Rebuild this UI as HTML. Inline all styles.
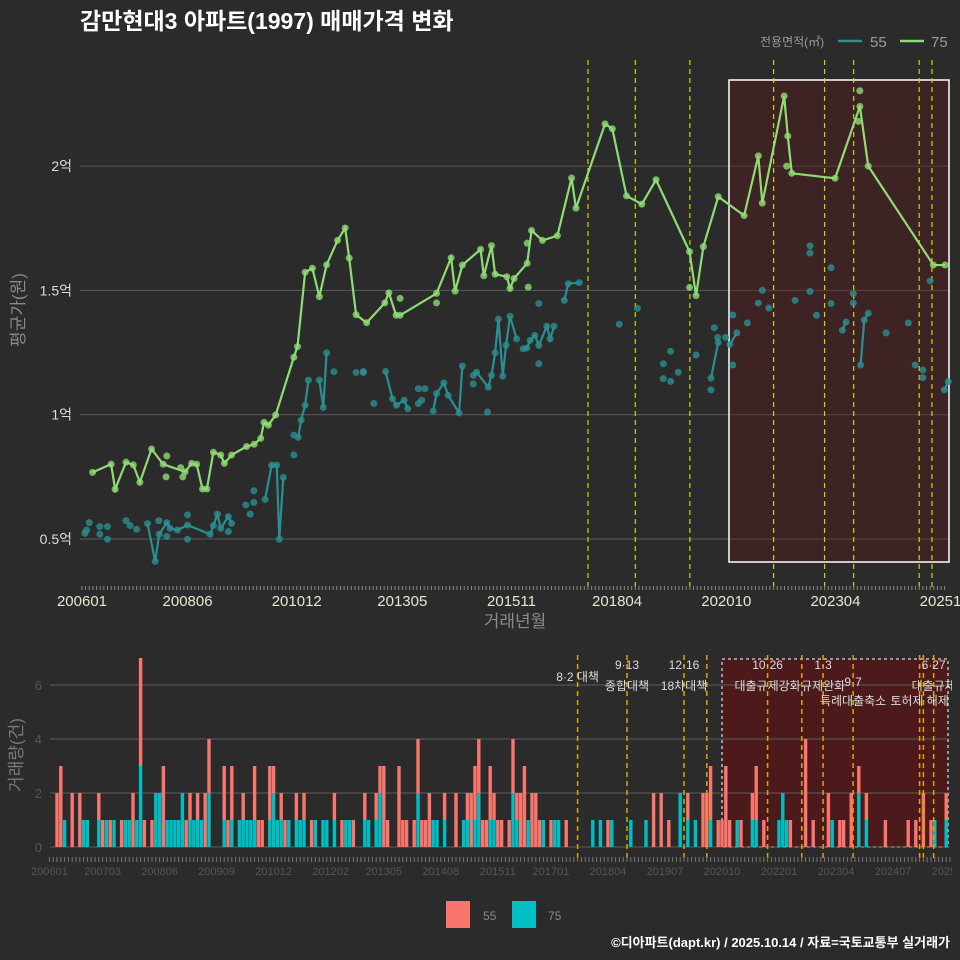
<!DOCTYPE html>
<html><head><meta charset="utf-8"><style>
html,body{margin:0;padding:0;background:#2b2b2b;}
svg{display:block;font-family:"Liberation Sans","Noto Sans CJK KR",sans-serif;}
</style></head><body>
<svg id="chart" width="960" height="960" viewBox="0 0 960 960" xmlns="http://www.w3.org/2000/svg">
<rect x="0" y="0" width="960" height="960" fill="#2b2b2b"/>
<text x="80" y="29" font-size="23" font-weight="bold" fill="#ffffff">감만현대3 아파트(1997) 매매가격 변화</text>
<g>
<text x="760" y="46" font-size="12" fill="#9a9a9a">전용면적(㎡)</text>
<line x1="838" y1="41" x2="862" y2="41" stroke="#2a8f91" stroke-width="2.5"/>
<text x="870" y="47" font-size="15" fill="#9a9a9a">55</text>
<line x1="900" y1="41" x2="924" y2="41" stroke="#8fdb74" stroke-width="2.5"/>
<text x="931" y="47" font-size="15" fill="#9a9a9a">75</text>
</g>
<g id="topPanel"></g>
<g id="bottomPanel"></g>
<text x="515" y="627" font-size="17" fill="#8a8a8a" text-anchor="middle">거래년월</text>
<text x="24" y="310" font-size="17" fill="#8a8a8a" text-anchor="middle" transform="rotate(-90 24 310)">평균가(원)</text>
<text x="22" y="755" font-size="17" fill="#7a7a7a" text-anchor="middle" transform="rotate(-90 22 755)">거래량(건)</text>
<g>
<rect x="446" y="901" width="24" height="27" fill="#f8766d"/>
<text x="483" y="920" font-size="12" fill="#8a8a8a">55</text>
<rect x="512" y="901" width="24" height="27" fill="#00bfc4"/>
<text x="548" y="920" font-size="12" fill="#8a8a8a">75</text>
</g>
<text x="950" y="947" font-size="13" font-weight="bold" fill="#ffffff" text-anchor="end">©디아파트(dapt.kr) / 2025.10.14 / 자료=국토교통부 실거래가</text>
</svg>
<script>
// ---------- data (month index from 2006-01) ----------
const line75 = [[2.9,0.768],[8.0,0.801],[9.1,0.70],[12.1,0.809],[14.1,0.798],[15.9,0.728],[19.1,0.862],[22.3,0.801],[28.3,0.77],[30.1,0.804],[31.5,0.801],[33.1,0.701],[34.3,0.701],[36.1,0.849],[38.1,0.838],[39.1,0.804],[41.1,0.838],[45.2,0.872],[47.3,0.881],[49.1,0.905],[50.0,0.969],[51.2,0.958],[53.2,0.999],[58.2,1.231],[59.2,1.274],[61.3,1.573],[63.3,1.589],[65.2,1.475],[67.2,1.603],[70.2,1.701],[72.3,1.751],[73.4,1.63],[75.3,1.402],[78.2,1.37],[83.2,1.45],[84.3,1.49],[86.3,1.40],[87.4,1.40],[97.4,1.488],[101.4,1.631],[102.5,1.497],[104.5,1.602],[109.5,1.665],[110.4,1.559],[112.5,1.68],[113.5,1.565],[116.7,1.555],[117.6,1.508],[118.7,1.548],[122.3,1.609],[123.5,1.741],[126.5,1.701],[130.6,1.72],[134.5,1.952],[135.7,1.831],[143.7,2.17],[145.7,2.15],[149.6,1.88],[153.8,1.847],[157.7,1.945],[166.9,1.656],[168.7,1.479],[170.7,1.676],[174.8,1.877],[181.9,1.801],[185.8,2.041],[186.9,1.851],[192.9,2.282],[193.9,2.121],[195.0,1.971],[206.9,1.951],[213.7,2.24],[216.0,2.0],[233.9,1.602],[237.1,1.602]];
const dots75 = [[23.3,0.834],[23.1,0.75],[27.1,0.787],[27.7,0.75],[87.4,1.468],[97.4,1.45],[122.3,1.69],[122.6,1.513],[166.9,1.512],[193.6,2.0],[213.7,2.303],[213.3,2.18]];
const segs55 = [
 [[18.0,0.562],[20.1,0.41],[21.2,0.519],[23.3,0.566],[24.2,0.543],[26.2,0.536],[29.0,0.556],[35.2,0.519],[36.1,0.554],[37.2,0.60],[38.1,0.543],[40.2,0.59],[41.1,0.563]],
 [[50.3,0.659],[52.1,0.797],[53.5,0.797],[54.2,0.499],[55.3,0.748]],
 [[59.4,0.909],[60.2,0.978],[61.3,1.038],[62.2,1.139]],
 [[65.2,1.139],[66.3,1.029],[67.2,1.249]],
 [[83.4,1.174],[85.3,1.064],[86.4,1.038],[88.5,1.058],[89.5,1.024]],
 [[96.5,1.015],[97.4,1.085],[99.4,1.128],[100.6,1.078],[103.6,1.007],[104.5,1.196]],
 [[107.5,1.158],[108.4,1.171],[111.6,1.111],[112.5,1.158],[113.5,1.249],[114.4,1.385],[115.6,1.155],[116.5,1.279],[117.6,1.396],[119.4,1.305]],
 [[121.2,1.265],[122.2,1.268],[123.1,1.299],[124.4,1.319],[125.5,1.279],[127.7,1.356],[128.6,1.305],[129.7,1.356]],
 [[132.5,1.46],[133.6,1.527],[136.6,1.531]],
 [[172.8,1.147],[174.8,1.291]],
 [[178.0,1.283],[179.9,1.329]],
 [[208.9,1.34],[209.9,1.373]],
 [[213.9,1.2],[214.9,1.381],[216.0,1.408]],
 [[236.9,1.10],[238.0,1.133]]
];
const dots55 = [[0.8,0.523],[2.0,0.566],[1.3,0.536],[4.9,0.55],[4.9,0.519],[7.0,0.55],[7.0,0.499],[12.1,0.574],[13.2,0.554],[15.0,0.539],[21.1,0.574],[23.3,0.51],[29.0,0.597],[29.0,0.499],[40.2,0.53],[45.0,0.637],[46.2,0.60],[47.2,0.694],[47.2,0.647],[58.2,0.838],[58.2,0.918],[69.2,1.173],[75.3,1.17],[77.3,1.17],[77.3,1.174],[80.2,1.045],[92.4,1.105],[92.4,1.045],[94.2,1.105],[93.3,1.058],[107.5,1.124],[111.4,1.011],[125.5,1.447],[125.5,1.205],[147.6,1.364],[152.6,1.428],[159.7,1.205],[161.7,1.255],[159.7,1.145],[161.7,1.134],[163.8,1.171],[168.7,1.24],[173.7,1.35],[174.6,1.311],[176.8,1.311],[178.8,1.401],[178.8,1.2],[182.8,1.369],[185.8,1.449],[186.9,1.5],[188.7,1.429],[195.9,1.46],[200.0,1.679],[200.0,1.65],[200.0,1.496],[201.8,1.40],[205.8,1.591],[205.8,1.447],[211.9,1.487],[211.9,1.449],[220.9,1.329],[227.0,1.369],[228.9,1.2],[231.0,1.18],[231.0,1.149],[233.0,1.538],[172.8,1.10]];
const topTickMonths = [0,29,59,88,118,147,177,207,237];
const topTickLabels = ["200601","200806","201012","201305","201511","201804","202010","202304","202510"];
const yTickValues = [0.5,1,1.5,2];
const yTickLabels = ["0.5억","1억","1.5억","2억"];
const policyMonthsTop = [139,152,167,190,204,212,230,233.5];
const barMonths = [2,3,4,6,8,9,10,13,14,15,16,17,19,20,21,22,23,24,25,27,28,29,30,31,32,33,34,35,36,37,38,39,40,41,42,46,47,48,50,51,52,53,54,55,56,58,59,60,61,62,63,65,66,67,69,70,72,73,75,77,78,79,80,83,84,86,87,88,89,92,93,94,96,97,98,99,100,101,102,104,107,109,110,111,112,113,114,115,116,117,118,119,121,122,123,124,125,126,127,128,129,130,132,133,134,136,143,145,147,148,153,157,159,161,163,166,168,170,172,173,174,176,177,178,179,181,182,185,186,188,192,193,194,195,199,201,205,206,208,209,211,213,215,220,226,228,230,232,233,236];
const bar55 = [2,3,0,2,2,0,0,1,1,0,1,0,1,0,0,2,0,4,1,1,0,0,3,0,0,0,0,0,1,1,0,1,0,2,2,2,1,2,0,1,0,0,2,1,1,2,1,0,1,1,0,1,0,1,1,0,0,0,1,1,0,0,1,1,0,1,1,3,1,3,1,1,1,2,1,1,2,0,0,1,2,0,1,2,2,2,1,1,2,1,1,1,1,2,1,2,3,0,2,2,1,0,1,0,0,1,0,0,1,0,0,0,2,2,1,0,1,0,2,2,2,1,1,3,1,0,1,1,2,1,0,0,0,1,4,1,2,0,1,1,2,1,1,1,1,1,2,1,0,1];
const bar75 = [0,0,1,0,0,1,1,1,0,1,0,1,0,1,1,0,1,3,0,0,2,2,0,1,1,1,1,2,0,1,1,1,1,0,2,1,0,1,1,1,1,1,1,0,0,1,2,1,1,0,1,1,1,1,0,1,1,1,1,0,1,1,0,1,1,1,2,0,0,0,0,0,0,2,0,0,0,1,1,1,0,1,1,0,1,2,0,0,1,1,0,0,0,2,1,0,0,1,0,0,0,1,0,1,1,0,1,1,0,1,1,1,0,0,0,2,1,1,0,0,1,0,0,0,0,1,0,1,1,0,1,2,1,0,0,0,0,1,0,0,0,2,1,0,0,0,0,0,1,1];
const bottomTickMonths = [0,14,29,44,59,74,88,103,118,132,147,162,177,192,207,222,237];
const bottomTickLabels = ["200601","200703","200806","200909","201012","201202","201305","201408","201511","201701","201804","201907","202010","202201","202304","202407","202510"];
const countTicks = [0,2,4,6];
const policyMonthsBottom = [139,152,167,173,189,198,203.6,211.5,229,230,232.7];
const policyDates = [["8·2 대책","",139,681,0],["9·13","종합대책",152,669,690],["12·16","18차대책",167,669,690],["10·26","대출규제강화",189,669,690],["1·3","규제완화",203.6,669,690],["9·7","특례대출축소",211.5,686,705],["","토허제 해제",229,0,705],["6·27","대출규제",232.7,669,690]];

// ---------- scales ----------
const xT = m => 82 + m*3.64;
const yT = v => 539 - (v-0.5)*248.6;
const xB = m => 49.4 + m*3.8;
const yB = n => 847 - n*27;
const NS = "http://www.w3.org/2000/svg";
function mk(parent, tag, attrs){ const e=document.createElementNS(NS,tag); for(const k in attrs) e.setAttribute(k,attrs[k]); parent.appendChild(e); return e; }

const topG = document.getElementById('topPanel');
yTickValues.forEach((v,i)=>{
  const g = mk(topG,'line',{x1:80,x2:950,y1:yT(v),y2:yT(v),stroke:'#5a5a5a','stroke-width':1});
  
  
  const t = mk(topG,'text',{x:72,y:yT(v)+5,'font-size':14,fill:'#dddddd','text-anchor':'end'});
  t.textContent = yTickLabels[i];
  
  
});
const hr = mk(topG,'rect',{x:729,y:80,width:220,height:482,fill:'rgba(100,20,20,0.32)',stroke:'#ffffff','stroke-width':1.5});


policyMonthsTop.forEach(m=>{
  const l = mk(topG,'line',{x1:xT(m),x2:xT(m),y1:60,y2:588,stroke:'#d4d400','stroke-width':1.2,'stroke-dasharray':'5,4'});
  
  
});
for(let m=0;m<=237;m++){
  const tk = mk(topG,'line',{x1:xT(m),x2:xT(m),y1:586,y2:590,stroke:'#8a8a8a','stroke-width':1});
  
  
}
topTickMonths.forEach((m,i)=>{
  const t = mk(topG,'text',{x:xT(m),y:606,'font-size':15,fill:'#e8e6cc','text-anchor':'middle'});
  t.textContent = topTickLabels[i];
  
  
});
segs55.forEach(s=>{
  const p = mk(topG,'polyline',{points:s.map(d=>xT(d[0])+','+yT(d[1])).join(' '),fill:'none',stroke:'#2a8f91','stroke-width':2.2});
  
  
  s.forEach(d=>{
    const c = mk(topG,'circle',{cx:xT(d[0]),cy:yT(d[1]),r:3.5,fill:'#2a8f91','fill-opacity':0.8});
    
    
  });
});
dots55.forEach(d=>{
  const c = mk(topG,'circle',{cx:xT(d[0]),cy:yT(d[1]),r:3.5,fill:'#2a8f91','fill-opacity':0.8});
  
  
});
const p75 = mk(topG,'polyline',{points:line75.map(d=>xT(d[0])+','+yT(d[1])).join(' '),fill:'none',stroke:'#8fdb74','stroke-width':2.2});


line75.concat(dots75).forEach(d=>{
  const c = mk(topG,'circle',{cx:xT(d[0]),cy:yT(d[1]),r:3.5,fill:'#8fdb74','fill-opacity':0.8});
  
  
});

// ---------- bottom panel ----------
const botG = document.getElementById('bottomPanel');
const br = mk(botG,'rect',{x:722,y:659,width:226,height:188,fill:'rgba(110,10,10,0.5)',stroke:'#bbbbbb','stroke-width':1.5,'stroke-dasharray':'3,3'});


countTicks.forEach(n=>{
  const g = mk(botG,'line',{x1:50,x2:950,y1:yB(n),y2:yB(n),stroke:'#5e5e5e','stroke-width':1});
  
  
  const t = mk(botG,'text',{x:42,y:yB(n)+5,'font-size':13,fill:'#555555','text-anchor':'end'});
  t.textContent = n;
  
  
});
barMonths.forEach((m,i)=>{
  const x = xB(m)-1.7;
  if(bar75[i]>0){
    const b = mk(botG,'rect',{x:x,y:yB(bar75[i]),width:3.4,height:yB(0)-yB(bar75[i]),fill:'#00bfc4'});
    
    
  }
  if(bar55[i]>0){
    const b = mk(botG,'rect',{x:x,y:yB(bar75[i]+bar55[i]),width:3.4,height:yB(bar75[i])-yB(bar75[i]+bar55[i]),fill:'#f8766d'});
    
    
  }
});
policyMonthsBottom.forEach(m=>{
  const l = mk(botG,'line',{x1:xB(m),x2:xB(m),y1:655,y2:858,stroke:'#e6a100','stroke-width':1.5,'stroke-dasharray':'5,4'});
  
  
});
policyDates.forEach(p=>{
  if(p[0]){
    const t = mk(botG,'text',{x:xB(p[2]),y:p[3],'font-size':12,fill:'#dddddd','text-anchor':'middle'});
    t.textContent = p[0];
    
    
  }
  if(p[1]){
    const t = mk(botG,'text',{x:xB(p[2]),y:p[4],'font-size':12,fill:'#dddddd','text-anchor':'middle'});
    t.textContent = p[1];
    
    
  }
});
for(let m=0;m<=237;m++){
  const tk = mk(botG,'line',{x1:xB(m),x2:xB(m),y1:857,y2:862,stroke:'#777777','stroke-width':1});
  
  
}
bottomTickMonths.forEach((m,i)=>{
  const t = mk(botG,'text',{x:xB(m),y:875,'font-size':11,fill:'#555555','text-anchor':'middle'});
  t.textContent = bottomTickLabels[i];
  
  
});
const cover = mk(botG,'rect',{x:952,y:640,width:8,height:240,fill:'#2b2b2b'});


</script>
</body></html>
